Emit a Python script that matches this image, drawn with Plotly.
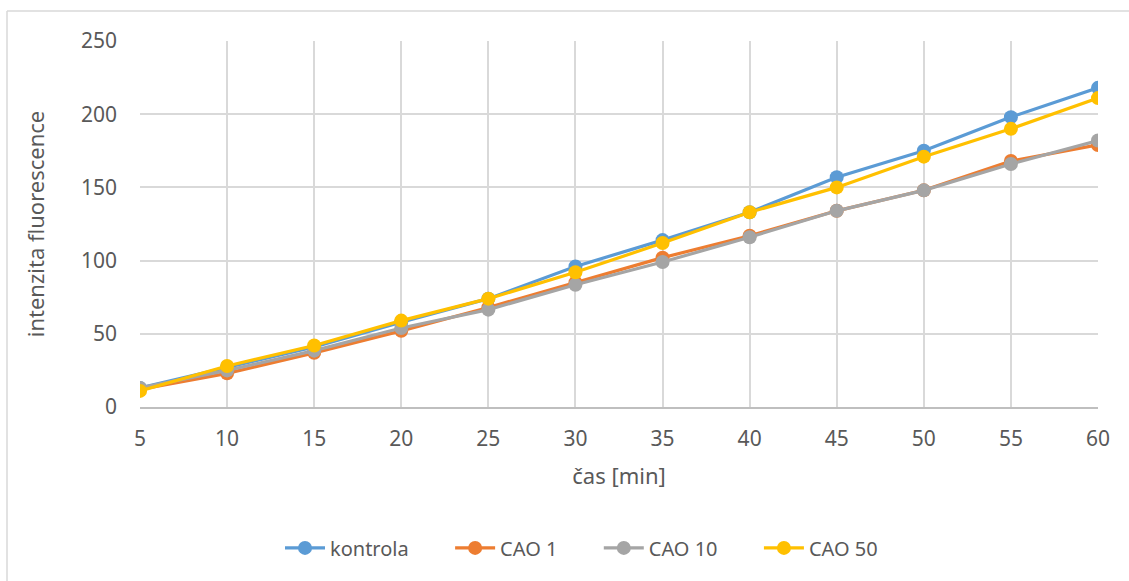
import plotly.graph_objects as go

cas = [5, 10, 15, 20, 25, 30, 35, 40, 45, 50, 55, 60]
kontrola = [13, 27, 41, 58, 74, 96, 114, 133, 157, 175, 198, 218]
cao1 = [12, 23, 37, 52, 68, 85, 102, 117, 134, 148, 168, 179]
cao10 = [13, 25, 38.5, 54, 66.5, 83.5, 99, 116, 134, 148, 166, 182]
cao50 = [11, 28, 42, 59, 74, 92, 112, 133, 150, 171, 190, 211]

series = [
    ("kontrola", kontrola, "#5B9BD5"),
    ("CAO 1", cao1, "#ED7D31"),
    ("CAO 10", cao10, "#A5A5A5"),
    ("CAO 50", cao50, "#FFC000"),
]

fig = go.Figure()
for name, vals, col in series:
    fig.add_trace(go.Scatter(
        x=cas, y=vals, name=name + "\u00a0" * 7, mode="lines+markers",
        line=dict(color=col, width=3.2),
        marker=dict(color=col, size=14),
    ))

font_fam = "'Noto Sans', 'Open Sans', sans-serif"
fig.update_layout(
    width=1129, height=581,
    margin=dict(l=140, r=31, t=41, b=174),
    paper_bgcolor="white", plot_bgcolor="white",
    font=dict(family=font_fam, size=21, color="#595959"),
    showlegend=True,
    legend=dict(orientation="h", x=(280 - 140) / 958, xanchor="left", y=-0.385, yanchor="middle",
                font=dict(size=20, color="#595959"), itemwidth=40),
    xaxis=dict(
        range=[5, 60], tickvals=cas, ticktext=[str(c) for c in cas],
        showgrid=True, gridcolor="#d9d9d9", gridwidth=1.5,
        showline=True, linecolor="#bfbfbf", linewidth=1.5,
        zeroline=False, ticks="", ticklabelstandoff=12,
        title=dict(text="čas [min]", font=dict(size=22, color="#595959"), standoff=18),
    ),
    yaxis=dict(
        range=[0, 250], tickvals=[0, 50, 100, 150, 200, 250],
        showgrid=True, gridcolor="#d9d9d9", gridwidth=1.5,
        showline=False, zeroline=False, ticks="", ticklabelstandoff=22,
        title=dict(text="intenzita fluorescence", font=dict(size=22, color="#595959"), standoff=30),
    ),
)

# chart border (left and top edges visible)
x0 = (7 - 140) / 958
y0 = (407 - 11) / 366
fig.add_shape(type="line", xref="paper", yref="paper", x0=x0, x1=x0, y0=y0, y1=-0.6,
              line=dict(color="#d9d9d9", width=1.5))
fig.add_shape(type="line", xref="paper", yref="paper", x0=x0, x1=1.2, y0=y0, y1=y0,
              line=dict(color="#d9d9d9", width=1.5))

fig.write_html("out.html")
